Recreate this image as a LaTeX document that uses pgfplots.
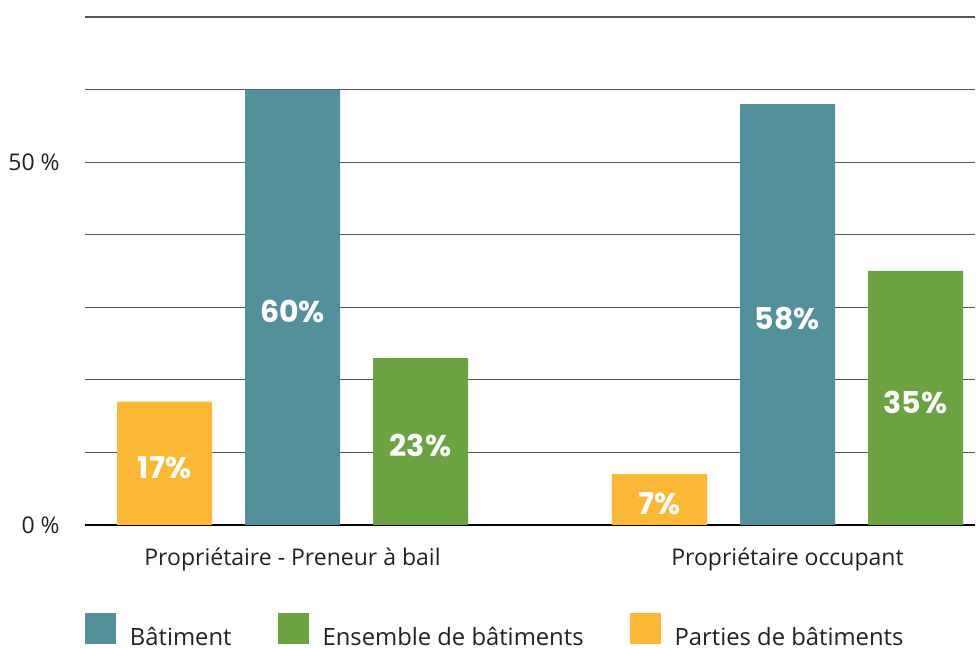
\documentclass[border=0pt]{standalone}
\usepackage{fontspec}
\setmainfont{Open Sans}
\newfontfamily\lblfont{Poppins}
\usepackage{pgfplots}
\pgfplotsset{compat=1.18}
\definecolor{cteal}{HTML}{52919B}
\definecolor{cgreen}{HTML}{6BA342}
\definecolor{corange}{HTML}{FCB834}
\definecolor{cgrid}{HTML}{55555E}
\definecolor{ctext}{HTML}{222222}
\begin{document}
\begin{tikzpicture}
\useasboundingbox (0,0) rectangle (488pt,324pt);
\begin{axis}[
  at={(42.5pt,61.5pt)}, anchor=south west,
  scale only axis, width=445pt, height=254pt,
  xmin=-0.4192, xmax=1.3788, ymin=0, ymax=70,
  axis x line*=bottom, axis y line*=left,
  y axis line style={draw=none},
  x axis line style={draw=black, line width=1pt, -},
  major tick length=0pt,
  xtick={0,1},
  xticklabels={Propriétaire - Preneur à bail, Propriétaire occupant},
  xticklabel style={anchor=base, yshift=-20.5pt, inner sep=0pt, font=\fontsize{11.5}{13}\selectfont, text=ctext},
  ytick={0,50}, yticklabels={0 \%, 50 \%},
  extra y ticks={10,20,30,40,60,70}, extra y tick labels={},
  extra y tick style={grid=major},
  ymajorgrids,
  grid style={draw=cgrid, line width=0.55pt},
  yticklabel style={anchor=east, inner sep=0pt, xshift=-12.5pt, font=\fontsize{11.5}{13}\selectfont, text=ctext},
  /pgf/number format/assume math mode=true,
  bar width=47.5pt,
  nodes near coords={\pgfmathprintnumber{\pgfplotspointmeta}\%},
  visualization depends on=y \as \rawy,
  every node near coord/.append style={anchor=center, shift={(axis direction cs:0,-\rawy/2)}, yshift=-2pt, text=white, font=\lblfont\bfseries\fontsize{15}{17}\selectfont},
  legend columns=3,
  legend style={at={(axis description cs:0,0)}, anchor=north west, yshift=-44pt, xshift=0pt, draw=none, fill=none, inner sep=0pt, outer sep=0pt,
    font=\fontsize{11.9}{13}\selectfont, text=ctext,
    /tikz/every odd column/.append style={column sep=5pt},
    /tikz/every even column/.append style={column sep=21pt}},
  legend image code/.code={\fill[#1] (0pt,-3pt) rectangle (15.5pt,12.5pt);},
]
\addplot[ybar, bar shift=0pt, fill=cteal, draw=none] coordinates {(0,60) (1,58)};
\addplot[ybar, bar shift=64pt, fill=cgreen, draw=none, every node near coord/.append style={xshift=64pt}] coordinates {(0,23) (1,35)};
\addplot[ybar, bar shift=-64pt, fill=corange, draw=none, every node near coord/.append style={xshift=-64pt}] coordinates {(0,17) (1,7)};
\legend{Bâtiment, Ensemble de bâtiments, Parties de bâtiments}
\end{axis}
\end{tikzpicture}
\end{document}
